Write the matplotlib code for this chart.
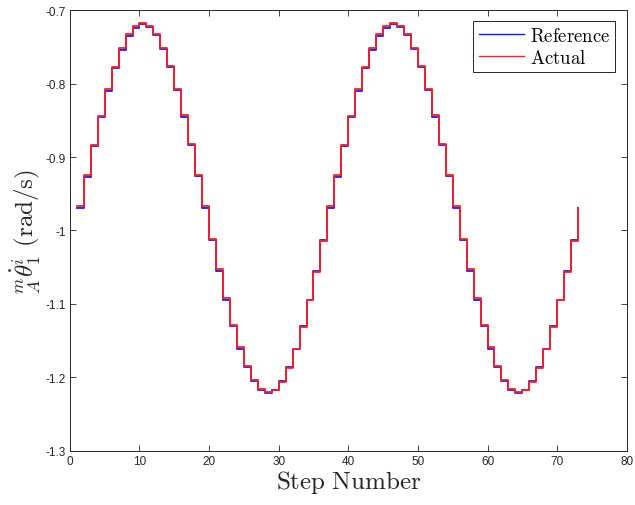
import matplotlib
matplotlib.use("Agg")
import matplotlib.pyplot as plt
import numpy as np

plt.rcParams['mathtext.fontset'] = 'cm'
plt.rcParams['font.family'] = ['Liberation Sans', 'DejaVu Sans']

# one cycle of values (steps 1..37), second cycle repeats
cycle_ref = [-0.969, -0.927, -0.885, -0.846, -0.810, -0.779, -0.754, -0.735,
             -0.724, -0.719, -0.723, -0.734, -0.753, -0.778, -0.809, -0.845,
             -0.884, -0.926, -0.969, -1.013, -1.055, -1.094, -1.130, -1.161,
             -1.186, -1.205, -1.217, -1.221, -1.217, -1.205, -1.186, -1.161,
             -1.130, -1.094, -1.055, -1.013]
cycle_act = [-0.967, -0.925, -0.883, -0.844, -0.808, -0.777, -0.752, -0.733,
             -0.722, -0.718, -0.721, -0.732, -0.751, -0.776, -0.807, -0.843,
             -0.882, -0.924, -0.967, -1.011, -1.053, -1.092, -1.128, -1.159,
             -1.184, -1.204, -1.216, -1.220, -1.217, -1.206, -1.187, -1.162,
             -1.131, -1.095, -1.056, -1.014]

reference = cycle_ref + cycle_ref + [-0.969]
actual = cycle_act + cycle_act + [-0.969]
steps = np.arange(1, len(reference) + 1)

xticks = [0, 10, 20, 30, 40, 50, 60, 70, 80]
yticks = [-1.3, -1.2, -1.1, -1.0, -0.9, -0.8, -0.7]
ylabels = ['-1.3', '-1.2', '-1.1', '-1', '-0.9', '-0.8', '-0.7']

fig = plt.figure(figsize=(6.35, 5.06), dpi=100)
ax = fig.add_axes([0.110, 0.107, 0.877, 0.871])

ax.step(steps, reference, where='post', color='#1a1aff', lw=1.3, label=r'$\mathrm{Reference}$')
ax.step(steps, actual, where='post', color='#ff2020', lw=1.3, label=r'$\mathrm{Actual}$')

ax.set_xlim(0, 80)
ax.set_ylim(-1.3, -0.7)
ax.set_xticks(xticks)
ax.set_yticks(yticks)
ax.set_yticklabels(ylabels)
ax.tick_params(direction='in', length=4, width=0.6, top=True, right=True,
               labelsize=8.5, colors='#262626', labelcolor='#262626', pad=3)
for s in ax.spines.values():
    s.set_color('#262626')
    s.set_linewidth(0.7)

ax.set_xlabel(r'$\mathrm{Step\ Number}$', fontsize=18, color='#262626', labelpad=1)
ax.set_ylabel(r'${}^{m}_{A}\dot{\theta}^{i}_{1}\ \mathrm{(rad/s)}$', fontsize=18,
              color='#262626', labelpad=2)

leg = ax.legend(loc='upper right', fontsize=13.5, fancybox=False, framealpha=1,
                edgecolor='#262626', handlelength=2.4, borderpad=0.3,
                labelspacing=0.2, handletextpad=0.3, borderaxespad=0.6)
leg.get_frame().set_linewidth(0.7)
for h in leg.get_lines():
    h.set_linewidth(1.0)

fig.savefig('out.png', dpi=100)
